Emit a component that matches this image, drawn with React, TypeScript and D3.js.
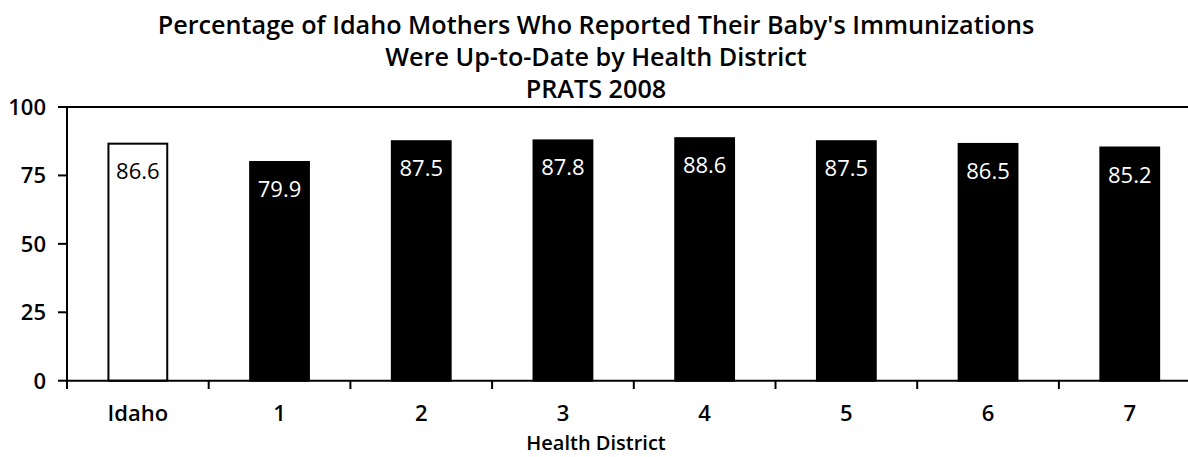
import React from "react";
import * as d3 from "d3";

const categories = ["Idaho", "1", "2", "3", "4", "5", "6", "7"];
const values = [86.6, 79.9, 87.5, 87.8, 88.6, 87.5, 86.5, 85.2];
const yTicks = [0, 25, 50, 75, 100];
const titleLines = [
  "Percentage of Idaho Mothers Who Reported Their Baby's Immunizations",
  "Were Up-to-Date by Health District",
  "PRATS 2008",
];
const xTitle = "Health District";

const W = 1188;
const H = 457;
const left = 67;
const step = 141.7;
const font = "'Open Sans', sans-serif";
const weight = 600;

export default function App() {
  const x = d3
    .scaleBand<string>()
    .domain(categories)
    .range([left, left + step * categories.length])
    .paddingInner(0.585)
    .paddingOuter(0.2925);
  const y = d3.scaleLinear().domain([0, 100]).range([380.7, 107]);
  const boundaries = d3.range(categories.length + 1).map((i) => left + i * step);

  return (
    <svg
      width={W}
      height={H}
      style={{ position: "absolute", left: 0, top: 0, background: "#fff" }}
      fontFamily={font}
    >
      {titleLines.map((t, i) => (
        <text
          key={i}
          x={596}
          y={34 + i * 32}
          textAnchor="middle"
          fontSize={25.2}
          fontWeight={weight}
          fill="#000"
        >
          {t}
        </text>
      ))}
      {categories.map((c, i) => (
        <rect
          key={c}
          x={x(c)}
          y={y(values[i])}
          width={x.bandwidth()}
          height={y(0) - y(values[i])}
          fill={i === 0 ? "#fff" : "#000"}
          stroke="#000"
          strokeWidth={2}
        />
      ))}
      {categories.map((c, i) => (
        <text
          key={"v" + c}
          x={x(c)! + x.bandwidth() / 2}
          y={y(values[i]) + 35}
          textAnchor="middle"
          fontSize={22}
          fontWeight={500}
          fill={i === 0 ? "#000" : "#fff"}
        >
          {values[i].toFixed(1)}
        </text>
      ))}
      <line x1={58} x2={W} y1={y(100)} y2={y(100)} stroke="#000" strokeWidth={2} />
      <line x1={left} x2={left} y1={y(100)} y2={389} stroke="#000" strokeWidth={2} />
      {yTicks.map((t) => (
        <g key={t}>
          <line x1={58} x2={left} y1={y(t)} y2={y(t)} stroke="#000" strokeWidth={2} />
          <text
            x={46}
            y={y(t) + 8}
            textAnchor="end"
            fontSize={22}
            fontWeight={weight}
            fill="#000"
          >
            {t}
          </text>
        </g>
      ))}
      <line x1={left} x2={W} y1={y(0)} y2={y(0)} stroke="#000" strokeWidth={2} />
      {boundaries.map((b, i) => (
        <line key={i} x1={b} x2={b} y1={y(0)} y2={389} stroke="#000" strokeWidth={2} />
      ))}
      {categories.map((c) => (
        <text
          key={"l" + c}
          x={x(c)! + x.bandwidth() / 2}
          y={421}
          textAnchor="middle"
          fontSize={22}
          fontWeight={weight}
          fill="#000"
        >
          {c}
        </text>
      ))}
      <text x={596} y={450} textAnchor="middle" fontSize={20} fontWeight={weight} fill="#000">
        {xTitle}
      </text>
    </svg>
  );
}
